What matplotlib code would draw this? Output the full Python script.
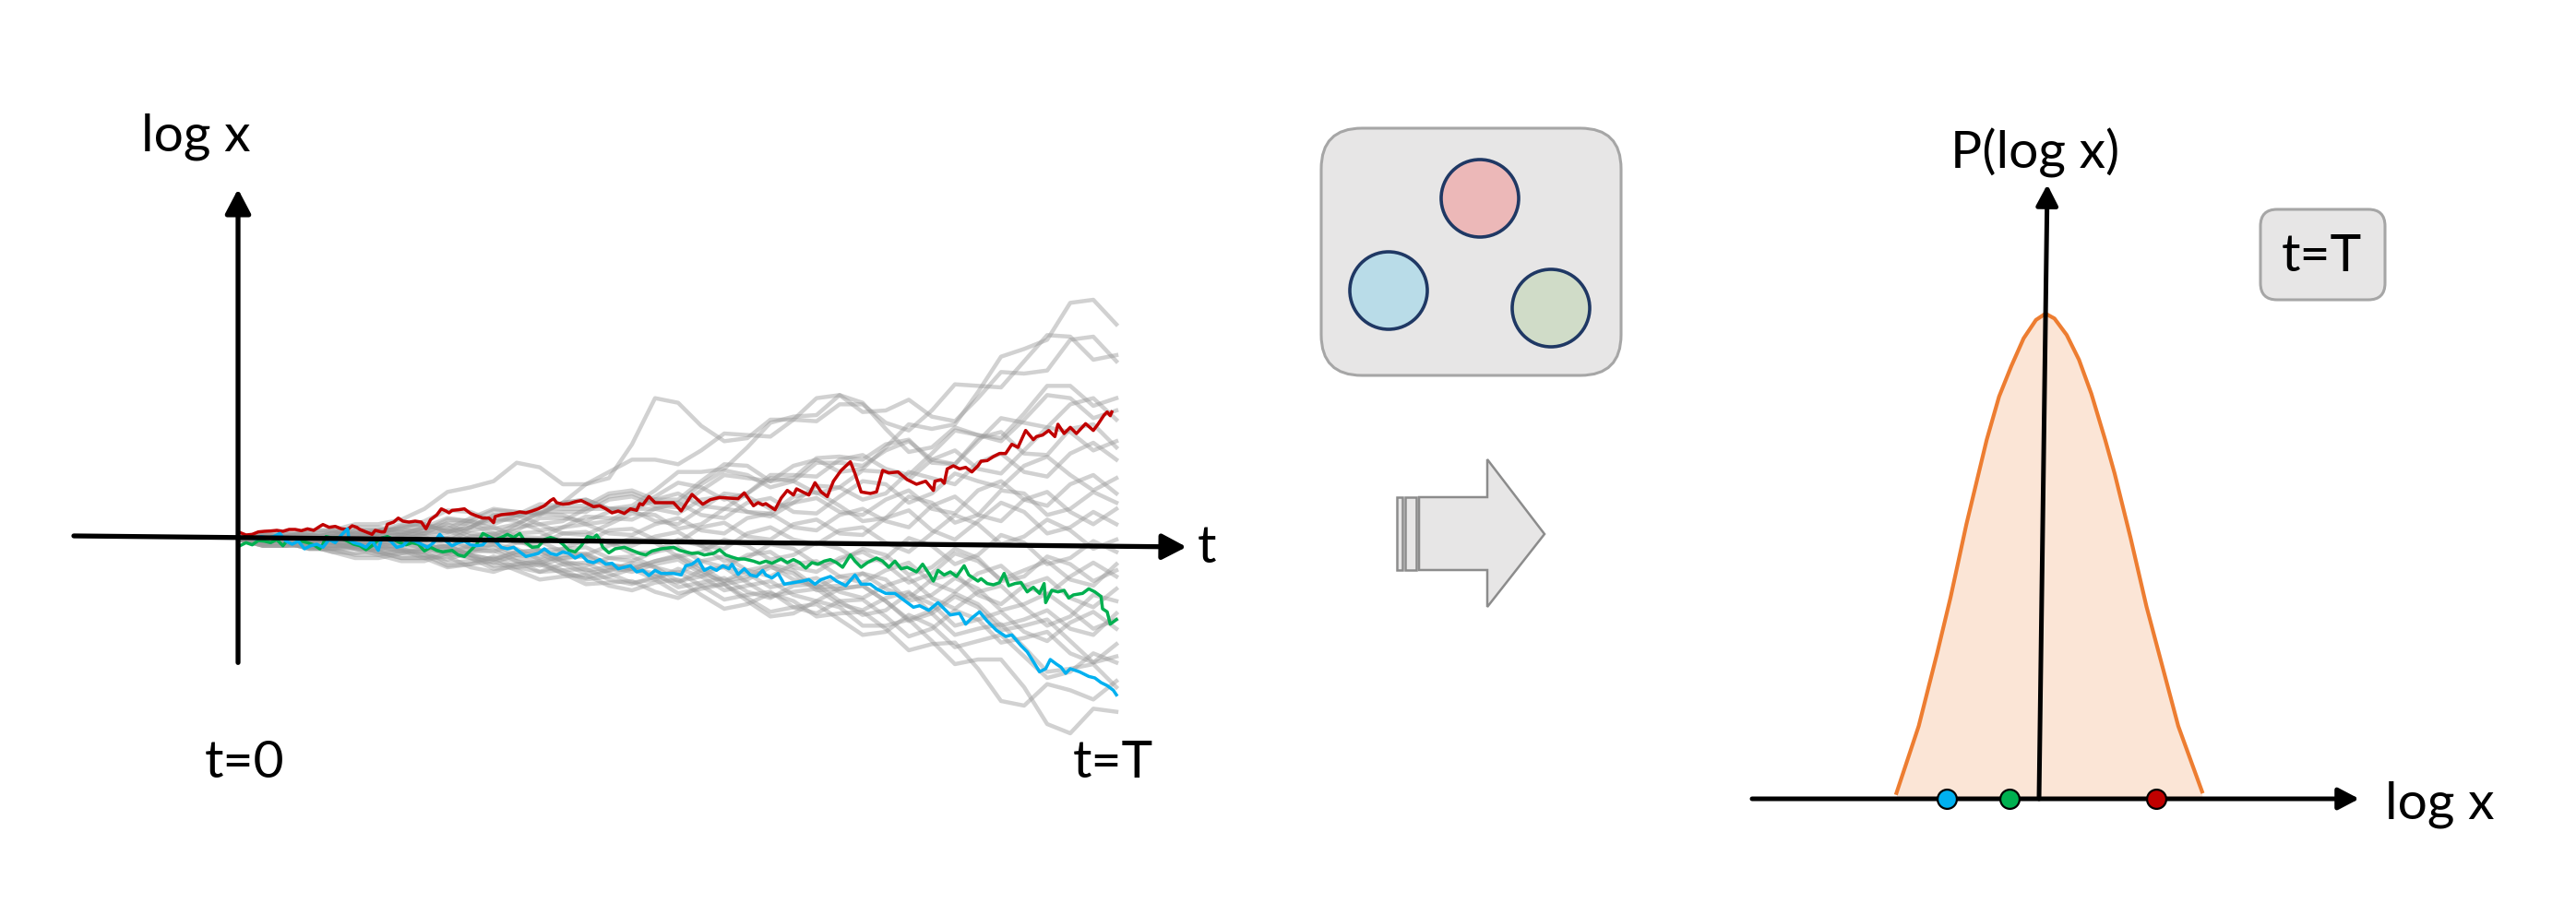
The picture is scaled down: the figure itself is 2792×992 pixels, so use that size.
import matplotlib

matplotlib.use("Agg")
import matplotlib.pyplot as plt
from matplotlib.patches import Circle, FancyBboxPatch, Polygon, Rectangle

# ---- data ----------------------------------------------------------------
# left panel: t in steps (T = 2850), log x in arbitrary units
RED_PATH = [
    (0, 0.23), (20, 0.15), (40, 0.17), (60, 0.25), (80, 0.27), (100, 0.28), (120, 0.30),
    (140, 0.27), (160, 0.33), (180, 0.33), (200, 0.29), (220, 0.35), (240, 0.30), (260, 0.43),
    (270, 0.49), (290, 0.40), (310, 0.43), (330, 0.35), (350, 0.33), (365, 0.45), (380, 0.40),
    (390, 0.33), (410, 0.25), (430, 0.17), (440, 0.30), (460, 0.25), (470, 0.25), (480, 0.50),
    (500, 0.57), (515, 0.70), (530, 0.60), (550, 0.57), (570, 0.60), (590, 0.57), (605, 0.35),
    (620, 0.65), (640, 0.80), (655, 1.00), (670, 0.93), (680, 0.87), (690, 0.95), (710, 0.97),
    (730, 1.00), (750, 0.85), (770, 0.77), (790, 0.70), (810, 0.70), (825, 0.55), (830, 0.75),
    (850, 0.81), (870, 0.83), (890, 0.85), (910, 0.90), (930, 0.87), (950, 0.93), (970, 1.00),
    (990, 1.10), (1010, 1.27), (1020, 1.33), (1030, 1.20), (1050, 1.15), (1070, 1.17),
    (1090, 1.23), (1110, 1.27), (1130, 1.17), (1150, 1.07), (1170, 1.10), (1190, 1.00),
    (1210, 0.87), (1230, 0.93), (1250, 0.85), (1270, 1.00), (1290, 0.95), (1300, 1.17),
    (1310, 1.13), (1330, 1.40), (1350, 1.20), (1370, 1.20), (1410, 1.20), (1435, 0.93),
    (1470, 1.47), (1505, 1.15), (1530, 1.30), (1560, 1.37), (1620, 1.33), (1640, 1.52),
    (1670, 1.10), (1685, 1.20), (1700, 1.13), (1710, 1.17), (1740, 0.97), (1760, 1.35),
    (1780, 1.60), (1800, 1.45), (1810, 1.65), (1830, 1.55), (1850, 1.45), (1870, 1.85),
    (1890, 1.55), (1910, 1.40), (1930, 1.90), (1955, 2.25), (1985, 2.53), (2000, 2.15),
    (2020, 1.55), (2050, 1.50), (2070, 1.55), (2090, 2.25), (2110, 2.17), (2140, 2.20),
    (2170, 1.95), (2200, 1.80), (2230, 1.90), (2255, 1.60), (2260, 1.90), (2280, 1.95),
    (2290, 1.83), (2300, 2.30), (2320, 2.40), (2340, 2.30), (2360, 2.35), (2380, 2.20),
    (2400, 2.40), (2410, 2.55), (2430, 2.57), (2450, 2.70), (2470, 2.80), (2490, 2.80),
    (2510, 3.10), (2530, 3.00), (2555, 3.55), (2580, 3.25), (2590, 3.35), (2610, 3.40),
    (2630, 3.55), (2650, 3.35), (2660, 3.75), (2680, 3.45), (2700, 3.65), (2720, 3.45),
    (2750, 3.77), (2775, 3.55), (2790, 3.75), (2810, 4.05), (2820, 4.15), (2830, 4.03),
    (2835, 4.15),
]
GREEN_PATH = [
    (0, -0.20), (20, -0.10), (40, -0.17), (60, -0.03), (80, -0.05), (100, -0.10), (120, 0.00),
    (140, -0.20), (160, 0.05), (180, 0.07), (200, -0.05), (220, -0.10), (240, -0.17),
    (260, -0.30), (270, -0.15), (280, 0.10), (300, 0.05), (320, 0.07), (340, 0.00),
    (370, -0.15), (390, -0.20), (410, -0.33), (430, -0.20), (440, -0.10), (460, 0.05),
    (480, 0.10), (500, 0.00), (520, -0.10), (540, -0.17), (560, -0.10), (580, -0.15),
    (600, -0.37), (620, -0.25), (640, -0.35), (660, -0.40), (690, -0.35), (710, -0.50),
    (730, -0.55), (750, -0.35), (770, -0.15), (790, 0.20), (810, 0.10), (830, 0.00),
    (850, 0.07), (870, 0.17), (890, 0.07), (910, 0.20), (930, -0.10), (950, -0.25),
    (970, -0.23), (990, 0.00), (1010, 0.07), (1030, 0.00), (1050, -0.15), (1070, -0.35),
    (1090, -0.40), (1110, -0.20), (1130, 0.10), (1150, 0.05), (1160, 0.15), (1170, 0.00),
    (1180, -0.25), (1200, -0.43), (1220, -0.30), (1250, -0.25), (1270, -0.33), (1300, -0.45),
    (1320, -0.50), (1340, -0.37), (1370, -0.30), (1410, -0.25), (1430, -0.35), (1450, -0.40),
    (1470, -0.45), (1490, -0.43), (1510, -0.50), (1540, -0.45), (1560, -0.33), (1580, -0.50),
    (1600, -0.57), (1620, -0.63), (1640, -0.63), (1670, -0.70), (1690, -0.77), (1710, -0.70),
    (1730, -0.77), (1760, -0.63), (1780, -0.75), (1800, -0.65), (1820, -0.75), (1840, -0.93),
    (1860, -0.75), (1880, -0.80), (1900, -0.70), (1920, -0.65), (1940, -0.75), (1960, -0.90),
    (1985, -0.50), (2000, -0.70), (2020, -0.90), (2040, -0.75), (2070, -0.60), (2090, -0.70),
    (2110, -0.90), (2130, -0.70), (2150, -0.95), (2170, -0.90), (2200, -1.05), (2220, -0.80),
    (2240, -1.10), (2255, -1.35), (2270, -1.00), (2290, -1.15), (2310, -1.05), (2330, -1.20),
    (2355, -0.85), (2370, -1.15), (2400, -1.35), (2410, -1.27), (2430, -1.43), (2450, -1.47),
    (2470, -1.40), (2485, -1.10), (2500, -1.50), (2520, -1.43), (2540, -1.40), (2560, -1.70),
    (2580, -1.55), (2600, -1.75), (2615, -1.43), (2620, -2.05), (2640, -1.65), (2660, -1.70),
    (2680, -1.65), (2695, -1.90), (2710, -1.80), (2740, -1.75), (2760, -1.60), (2780, -1.70),
    (2800, -1.85), (2805, -2.25), (2820, -2.35), (2830, -2.75), (2850, -2.60),
]
BLUE_PATH = [
    (0, 0.05), (30, 0.07), (50, 0.03), (70, 0.10), (90, 0.05), (110, 0.10), (130, 0.20),
    (150, -0.05), (170, -0.15), (190, -0.05), (210, -0.30), (230, -0.20), (250, -0.15),
    (270, -0.25), (290, 0.00), (310, -0.10), (330, 0.15), (350, 0.35), (355, 0.00),
    (370, -0.10), (390, -0.15), (410, -0.25), (430, -0.03), (440, -0.20), (450, -0.35),
    (460, 0.00), (470, 0.05), (490, -0.05), (510, -0.25), (530, -0.20), (550, 0.00),
    (570, -0.05), (590, -0.15), (610, -0.25), (630, -0.10), (650, 0.17), (670, -0.05),
    (690, -0.20), (710, -0.10), (730, -0.05), (750, -0.17), (770, -0.20), (790, -0.17),
    (810, 0.05), (830, -0.05), (850, -0.25), (870, -0.30), (890, -0.25), (910, -0.40),
    (930, -0.55), (950, -0.50), (970, -0.45), (990, -0.30), (1010, -0.45), (1030, -0.50),
    (1050, -0.40), (1070, -0.45), (1090, -0.60), (1110, -0.50), (1130, -0.70), (1150, -0.75),
    (1170, -0.65), (1190, -0.80), (1210, -0.77), (1230, -0.95), (1250, -0.90), (1270, -0.85),
    (1290, -1.05), (1310, -1.00), (1330, -1.17), (1350, -1.00), (1370, -1.10), (1410, -1.10),
    (1435, -1.15), (1450, -0.85), (1470, -0.80), (1490, -0.65), (1510, -1.00), (1530, -0.90),
    (1550, -1.00), (1570, -0.85), (1590, -0.95), (1600, -0.80), (1620, -1.13), (1640, -0.95),
    (1660, -1.15), (1680, -1.20), (1700, -1.00), (1710, -1.15), (1730, -1.25), (1750, -1.10),
    (1770, -1.45), (1800, -1.40), (1830, -1.35), (1850, -1.30), (1870, -1.45), (1890, -1.30),
    (1920, -1.20), (1940, -1.35), (1970, -1.50), (2000, -1.15), (2020, -1.45), (2050, -1.45),
    (2070, -1.60), (2100, -1.75), (2130, -1.75), (2150, -1.90), (2170, -2.05), (2190, -2.20),
    (2210, -2.15), (2240, -2.30), (2270, -2.05), (2290, -2.25), (2310, -2.45), (2340, -2.40),
    (2360, -2.75), (2380, -2.55), (2405, -2.35), (2430, -2.65), (2460, -2.95), (2490, -3.15),
    (2510, -3.10), (2540, -3.45), (2560, -3.65), (2585, -4.05), (2600, -4.30), (2620, -4.20),
    (2635, -3.90), (2655, -4.05), (2670, -4.15), (2685, -4.35), (2700, -4.20), (2730, -4.30),
    (2760, -4.45), (2780, -4.50), (2800, -4.65), (2820, -4.75), (2840, -4.90), (2850, -5.05),
]
GRAY_T = [0, 75, 150, 225, 300, 375, 450, 525, 600, 675, 750, 825, 900, 975, 1050,
          1125, 1200, 1275, 1350, 1425, 1500, 1575, 1650, 1725, 1800, 1875, 1950,
          2025, 2100, 2175, 2250, 2325, 2400, 2475, 2550, 2625, 2700, 2775, 2850]
GRAY_PATHS = [
    [0, 0.15, 0.1, 0.05, 0.2, 0.25, 0.1, 0.15, 0.4, 0.7, 0.6, 0.35, 0.5, 0.9, 0.9, 0.9, 1.3, 1.4, 1.1, 1.05,
     1.6, 2.1, 2.0, 1.9, 2.4, 2.6, 2.2, 2.3, 3.0, 3.75, 3.6, 3.75, 4.8, 5.95, 6.2, 6.5, 7.7, 7.8, 7.0],
    [0, -0.15, -0.1, 0.15, 0.2, 0.15, 0.3, 0.35, 0.2, 0.2, 0.6, 0.95, 0.9, 0.85, 1.2, 1.8, 2.0, 3.1, 4.6, 4.45,
     3.7, 3.2, 3.3, 3.9, 3.9, 3.85, 4.4, 4.4, 3.8, 3.55, 4.2, 5.05, 5.0, 4.95, 5.8, 6.65, 6.6, 5.85, 6.0],
    [0, 0.2, 0.2, 0.15, 0.3, 0.5, 0.5, 0.65, 1.0, 1.55, 1.7, 1.9, 2.5, 2.35, 1.8, 1.8, 2.2, 2.6, 2.6, 2.45,
     2.9, 3.45, 3.4, 3.35, 3.9, 4.6, 4.7, 4.15, 4.2, 4.55, 4.0, 3.85, 4.6, 5.45, 5.4, 5.5, 6.5, 6.6, 5.8],
    [0, -0.05, 0.1, 0.15, 0.0, 0.05, 0.3, 0.5, 0.5, 0.25, 0.4, 0.8, 0.8, 0.8, 1.2, 1.3, 1.0, 1.1, 1.6, 2.2,
     2.2, 2.3, 3.0, 3.8, 4.0, 4.05, 4.7, 4.45, 3.6, 2.85, 3.0, 3.65, 3.4, 3.2, 3.9, 4.7, 4.6, 3.95, 4.2],
    [0, 0.2, 0.2, 0.05, 0.1, 0.3, 0.3, 0.35, 0.6, 0.95, 0.9, 0.6, 0.7, 1.05, 1.0, 1.0, 1.4, 1.5, 1.2, 1.2,
     1.8, 2.25, 2.1, 1.7, 1.9, 2.5, 2.5, 2.4, 2.9, 3.2, 2.6, 2.45, 3.2, 3.95, 3.8, 3.65, 4.4, 4.6, 3.9],
    [0, -0.05, 0.1, 0.3, 0.3, 0.15, 0.2, 0.45, 0.5, 0.25, 0.4, 0.8, 0.8, 0.5, 0.6, 1.0, 1.0, 0.95, 1.3, 1.5,
     1.1, 1.0, 1.5, 2.0, 1.9, 1.5, 1.7, 2.25, 2.2, 1.95, 2.6, 2.9, 2.3, 2.15, 2.9, 3.65, 3.5, 2.9, 3.2],
    [0, 0.05, -0.1, -0.1, 0.1, 0.3, 0.3, 0.15, 0.2, 0.55, 0.5, 0.2, 0.3, 0.7, 0.7, 0.6, 0.9, 0.95, 0.6, 0.5,
     1.0, 1.5, 1.4, 1.0, 1.2, 1.75, 1.7, 1.3, 1.5, 2.2, 2.0, 1.8, 2.5, 2.8, 2.2, 2.05, 2.8, 3.15, 2.6],
    [0, 0.0, 0.2, 0.2, 0.0, 0.0, 0.2, 0.25, 0.1, 0.05, 0.4, 0.7, 0.6, 0.3, 0.4, 0.75, 0.7, 0.65, 1.0, 1.2,
     0.8, 0.7, 1.2, 1.35, 0.9, 0.85, 1.4, 1.9, 1.8, 1.2, 1.5, 2.15, 1.9, 1.7, 2.4, 2.7, 2.1, 1.6, 2.0],
    [0, 0.1, 0.0, 0.0, 0.2, 0.2, 0.0, 0.05, 0.3, 0.4, 0.1, 0.05, 0.4, 0.5, 0.2, 0.15, 0.5, 0.85, 0.8, 0.35,
     0.5, 1.0, 0.9, 0.75, 1.2, 1.35, 0.9, 0.8, 1.3, 1.6, 1.0, 0.85, 1.6, 1.9, 1.3, 1.1, 1.8, 2.1, 1.5],
    [0, -0.05, 0.1, 0.1, -0.1, -0.1, 0.1, 0.15, 0.0, -0.05, 0.3, 0.4, 0.1, 0.05, 0.4, 0.5, 0.2, 0.15, 0.5, 0.7,
     0.3, 0.2, 0.7, 0.85, 0.4, 0.3, 0.8, 1.0, 0.6, 0.4, 1.1, 1.4, 0.8, 0.6, 1.3, 1.55, 0.9, 0.5, 1.0],
    [0, 0.05, -0.1, -0.1, 0.1, 0.1, -0.1, -0.05, 0.2, 0.3, 0.0, -0.1, 0.2, 0.25, -0.1, -0.1, 0.3, 0.35, 0.0, -0.1,
     0.4, 0.55, 0.1, 0.0, 0.5, 0.65, 0.2, 0.15, 0.7, 0.95, 0.3, 0.0, 0.6, 1.2, 0.9, 0.2, 0.4, 0.9, 0.5],
    [0, -0.05, 0.1, 0.1, -0.1, -0.15, 0.0, 0.0, -0.2, -0.25, 0.1, 0.2, -0.1, -0.15, 0.2, 0.25, -0.1, -0.2, 0.1, 0.25,
     -0.2, -0.3, 0.2, 0.4, 0.0, -0.15, 0.3, 0.4, -0.1, -0.4, 0.2, 0.8, 0.5, -0.15, 0.1, 0.65, 0.3, -0.3, 0.0],
    [0, 0.05, -0.1, -0.15, 0.0, 0.0, -0.2, -0.2, 0.0, 0.05, -0.3, -0.4, -0.1, -0.05, -0.4, -0.5, -0.2, 0.05, -0.1, -0.55,
     -0.4, 0.0, -0.2, -0.65, -0.5, -0.1, -0.3, -0.75, -0.6, 0.05, -0.2, -0.8, -0.5, 0.15, -0.1, -0.8, -0.6, -0.05, -0.4],
    [0, -0.1, 0.0, 0.0, -0.2, -0.25, -0.1, -0.1, -0.3, -0.45, -0.2, -0.15, -0.5, -0.6, -0.3, -0.25, -0.6, -0.7, -0.4, -0.25,
     -0.7, -0.9, -0.5, -0.4, -0.9, -1.05, -0.6, -0.4, -0.8, -1.4, -1.1, -0.45, -0.7, -1.3, -1.0, -0.7, -1.3, -1.5, -0.8],
    [0, 0.05, -0.1, -0.25, -0.2, -0.2, -0.4, -0.45, -0.3, -0.2, -0.5, -0.65, -0.4, -0.35, -0.7, -0.85, -0.6, -0.55, -0.9, -1.1,
     -0.7, -0.55, -1.0, -1.2, -0.8, -0.7, -1.2, -1.4, -1.0, -0.75, -1.4, -1.7, -1.1, -0.85, -1.5, -1.8, -1.2, -0.75, -1.2],
    [0, -0.2, -0.2, -0.05, -0.1, -0.3, -0.3, -0.3, -0.5, -0.65, -0.4, -0.35, -0.7, -0.85, -0.6, -0.55, -0.9, -1.05, -0.8, -0.65,
     -1.1, -1.35, -1.0, -0.85, -1.3, -1.55, -1.2, -1.1, -1.6, -1.9, -1.3, -1.1, -1.8, -2.1, -1.5, -1.25, -1.9, -2.2, -1.6],
    [0, 0.05, -0.1, -0.3, -0.3, -0.15, -0.2, -0.4, -0.4, -0.3, -0.6, -0.75, -0.5, -0.45, -0.8, -1.1, -1.0, -0.75, -0.9, -1.35,
     -1.2, -0.85, -1.1, -1.55, -1.4, -1.25, -1.7, -1.9, -1.5, -1.25, -1.9, -2.25, -1.7, -1.5, -2.2, -2.8, -2.5, -1.8, -2.0],
    [0, -0.2, -0.2, -0.15, -0.3, -0.5, -0.5, -0.35, -0.4, -0.75, -0.7, -0.6, -0.9, -1.05, -0.8, -0.75, -1.1, -1.4, -1.3, -0.95,
     -1.2, -1.65, -1.5, -1.35, -1.8, -2.0, -1.6, -1.5, -2.0, -2.6, -2.3, -1.75, -2.1, -2.8, -2.6, -2.3, -2.9, -3.1, -2.4],
    [0, 0.05, -0.1, -0.3, -0.3, -0.25, -0.4, -0.6, -0.6, -0.35, -0.5, -0.85, -0.8, -0.7, -1.0, -1.3, -1.2, -0.95, -1.1, -1.55,
     -1.4, -1.25, -1.7, -1.9, -1.5, -1.45, -2.0, -2.45, -2.3, -1.75, -2.1, -2.8, -2.6, -2.35, -3.0, -3.3, -2.7, -2.35, -2.9],
    [0, -0.2, -0.2, -0.2, -0.4, -0.45, -0.3, -0.35, -0.6, -0.9, -0.8, -0.55, -0.7, -1.05, -1.0, -0.95, -1.3, -1.45, -1.2, -1.05,
     -1.5, -1.95, -1.8, -1.7, -2.2, -2.4, -2.0, -1.95, -2.5, -3.15, -2.9, -2.3, -2.6, -3.35, -3.2, -3.0, -3.7, -4.0, -3.4],
    [0, 0.05, -0.1, -0.3, -0.3, -0.3, -0.5, -0.7, -0.7, -0.45, -0.6, -0.95, -0.9, -0.8, -1.1, -1.25, -1.0, -0.95, -1.3, -1.75,
     -1.6, -1.45, -1.9, -2.35, -2.2, -2.1, -2.6, -3.1, -3.0, -2.45, -2.8, -3.5, -3.3, -3.1, -3.8, -4.5, -4.3, -3.7, -4.0],
    [0, -0.2, -0.2, -0.2, -0.4, -0.6, -0.6, -0.45, -0.5, -0.85, -0.8, -0.7, -1.0, -1.3, -1.2, -1.15, -1.5, -1.65, -1.4, -1.3,
     -1.8, -2.25, -2.1, -1.75, -2.0, -2.5, -2.4, -2.35, -2.9, -3.6, -3.4, -3.35, -4.2, -5.25, -5.4, -4.7, -4.9, -5.2, -4.6],
    [0, 0.05, -0.1, -0.25, -0.2, -0.2, -0.4, -0.6, -0.6, -0.55, -0.9, -1.05, -0.8, -0.75, -1.1, -1.45, -1.4, -1.35, -1.7, -1.9,
     -1.5, -1.45, -2.0, -2.5, -2.4, -2.0, -2.2, -2.8, -2.8, -2.6, -3.3, -4.05, -3.9, -3.9, -4.8, -6.0, -6.3, -5.5, -5.6],
    [0, -0.05, 0.1, 0.3, 0.3, 0.15, 0.2, 0.4, 0.4, 0.35, 0.7, 1.0, 0.9, 0.85, 1.2, 1.3, 1.0, 1.0, 1.4, 1.85,
     1.7, 1.3, 1.5, 2.1, 2.1, 2.05, 2.6, 2.75, 2.3, 2.1, 2.8, 3.55, 3.4, 3.3, 4.1, 5.0, 5.0, 4.35, 4.6],
    [0, 0.05, -0.1, -0.25, -0.2, -0.05, -0.1, -0.3, -0.3, -0.2, -0.5, -0.65, -0.4, -0.35, -0.7, -1.0, -0.9, -0.85, -1.2, -1.4,
     -1.0, -0.9, -1.4, -1.85, -1.7, -1.6, -2.1, -2.3, -1.9, -1.7, -2.4, -3.1, -2.9, -2.75, -3.5, -4.3, -4.2, -4.05, -4.8],
    [0, -0.05, 0.1, 0.15, 0.0, -0.2, -0.2, -0.05, -0.1, -0.4, -0.3, -0.25, -0.6, -0.75, -0.5, -0.45, -0.8, -0.95, -0.7, -0.55,
     -1.0, -1.45, -1.3, -0.9, -1.1, -1.65, -1.6, -1.5, -2.0, -2.65, -2.4, -1.85, -2.2, -2.95, -2.8, -2.6, -3.3, -4.0, -3.8],
    [0, 0.15, 0.1, 0.05, 0.2, 0.4, 0.4, 0.25, 0.3, 0.65, 0.6, 0.5, 0.8, 1.15, 1.1, 1.1, 1.5, 1.6, 1.3, 1.3,
     1.9, 2.45, 2.4, 1.9, 2.0, 2.65, 2.7, 2.6, 3.1, 3.25, 2.5, 2.45, 3.3, 3.5, 2.8, 2.75, 3.6, 3.75, 3.0],
    [0, -0.1, 0.0, 0.15, 0.1, -0.1, -0.1, 0.1, 0.1, -0.25, -0.2, 0.1, 0.0, -0.35, -0.3, 0.0, -0.1, -0.45, -0.4, 0.0,
     -0.2, -0.7, -0.6, -0.15, -0.3, -0.8, -0.7, -0.3, -0.5, -1.15, -0.9, -0.3, -0.6, -1.35, -1.2, -0.55, -0.8, -1.35, -1.0],
    [0, 0.15, 0.1, -0.05, 0.0, 0.2, 0.2, 0.2, 0.4, 0.5, 0.2, 0.15, 0.5, 0.85, 0.8, 0.5, 0.6, 1.0, 1.0, 0.85,
     1.3, 1.4, 0.9, 0.85, 1.4, 1.55, 1.1, 0.6, 0.7, 1.4, 1.2, 0.55, 0.8, 1.6, 1.5, 0.8, 1.0, 1.55, 1.2],
    [0, -0.15, -0.1, 0.0, -0.1, -0.3, -0.3, -0.15, -0.2, -0.5, -0.4, -0.15, -0.3, -0.65, -0.6, -0.5, -0.8, -0.95, -0.7, -0.5,
     -0.9, -1.35, -1.2, -0.8, -1.0, -1.55, -1.5, -1.1, -1.3, -2.0, -1.8, -1.25, -1.6, -2.3, -2.1, -1.75, -2.3, -2.9, -2.6],
]

# right panel: density of log x at t = T (peak = 1)
PDF_LOGX = [-1.615, -1.374, -1.173, -1.029, -0.857, -0.637, -0.503, -0.370, -0.237, -0.103, 0.0,
            0.097, 0.230, 0.363, 0.497, 0.647, 0.750, 0.922, 1.095, 1.267, 1.439, 1.697]
PDF_P = [0.012, 0.150, 0.301, 0.415, 0.566, 0.740, 0.829, 0.892, 0.949, 0.987, 1.000,
         0.990, 0.956, 0.905, 0.835, 0.740, 0.670, 0.538, 0.396, 0.273, 0.150, 0.015]
FINAL_LOGX = {"blue": -1.07, "green": -0.39, "red": 1.20}

RED, GREEN, BLUE = "#C00000", "#00B050", "#00B0F0"
ORANGE, PEACH = "#ED7D31", "#FBE5D6"
BOX_FILL, BOX_EDGE, NAVY = "#E7E6E6", "#A6A6A6", "#1F3864"
FS = 41

W, H, DPI = 2792, 992, 100
plt.rcParams["font.family"] = ["Lato", "DejaVu Sans"]
fig = plt.figure(figsize=(W / DPI, H / DPI), dpi=DPI)
fig.patch.set_facecolor("white")


def layer(xlim, ylim):
    ax = fig.add_axes([0, 0, 1, 1])
    ax.set_xlim(*xlim)
    ax.set_ylim(*ylim)
    ax.axis("off")
    ax.patch.set_alpha(0)
    return ax


def arrow(ax, start, end, lw, scale):
    ax.annotate("", xy=end, xytext=start,
                arrowprops=dict(arrowstyle="-|>,head_length=0.8,head_width=0.42",
                                mutation_scale=scale, lw=lw, color="black",
                                shrinkA=0, shrinkB=0))


# ---- left panel: sample paths of log x over time --------------------------
axl = layer((-780, 7596), (-12.21, 17.55))
for vals in GRAY_PATHS:
    axl.plot(GRAY_T, vals, color="#9A9A9A", lw=3.2, alpha=0.45, solid_joinstyle="round", zorder=1)
for path, col in ((RED_PATH, RED), (GREEN_PATH, GREEN), (BLUE_PATH, BLUE)):
    t, v = zip(*path)
    axl.plot(t, v, color=col, lw=2.5, zorder=3)
arrow(axl, (-540, 0.12), (3078, -0.24), 3.8, 20)
arrow(axl, (-6, -4.0), (-6, 11.4), 3.8, 20)
axl.text(-321, 12.66, "log x", fontsize=FS, ha="left", va="baseline")
axl.text(3112, -0.3, "t", fontsize=FS, ha="left", va="center")
axl.text(15, -7.74, "t=0", fontsize=FS, ha="center", va="baseline")
axl.text(2838, -7.74, "t=T", fontsize=FS, ha="center", va="baseline")

# ---- middle: population box and block arrow -------------------------------
axm = layer((0, W), (H, 0))
axm.add_patch(FancyBboxPatch((1432, 139), 325, 268, boxstyle="round,pad=0,rounding_size=44",
                             fc=BOX_FILL, ec=BOX_EDGE, lw=2.2))
for (cx, cy), fc in (((1604, 215), "#ECB8B8"), ((1505, 315), "#B9DCE8"), ((1681, 334), "#D0DCC8")):
    axm.add_patch(Circle((cx, cy), 42, fc=fc, ec=NAVY, lw=2.6))
axm.add_patch(Polygon([(1538, 539), (1612, 539), (1612, 498), (1674, 579),
                       (1612, 658), (1612, 618), (1538, 618)],
                      closed=True, fc=BOX_FILL, ec="#8C8C8C", lw=1.8))
for x0, w in ((1514, 6), (1523, 12)):
    axm.add_patch(Rectangle((x0, 539), w, 79, fc=BOX_FILL, ec="#8C8C8C", lw=1.8))
axm.add_patch(FancyBboxPatch((2450, 227), 135, 98, boxstyle="round,pad=0,rounding_size=18",
                             fc=BOX_FILL, ec=BOX_EDGE, lw=2.2))
axm.text(2516, 278, "t=T", fontsize=FS, ha="center", va="center")

# ---- right panel: distribution of log x at t = T ---------------------------
axr = layer((-22.17, 5.75), (-0.2395, 1.6464))
axr.fill_between(PDF_LOGX, PDF_P, 0, color=PEACH, lw=0, zorder=1)
axr.plot(PDF_LOGX, PDF_P, color=ORANGE, lw=3.0, solid_joinstyle="round", zorder=2)
arrow(axr, (-3.18, 0), (3.40, 0), 3.6, 17)
arrow(axr, (-0.07, 0), (0.02, 1.266), 3.6, 17)
for key, col in (("blue", BLUE), ("green", GREEN), ("red", RED)):
    axr.plot(FINAL_LOGX[key], 0, "o", ms=15, mfc=col, mec="black", mew=1.6, zorder=5)
axr.text(-0.11, 1.30, "P(log x)", fontsize=FS, ha="center", va="baseline")
axr.text(3.68, -0.04, "log x", fontsize=FS, ha="left", va="baseline")

fig.savefig("out.png", dpi=DPI, facecolor="white")
